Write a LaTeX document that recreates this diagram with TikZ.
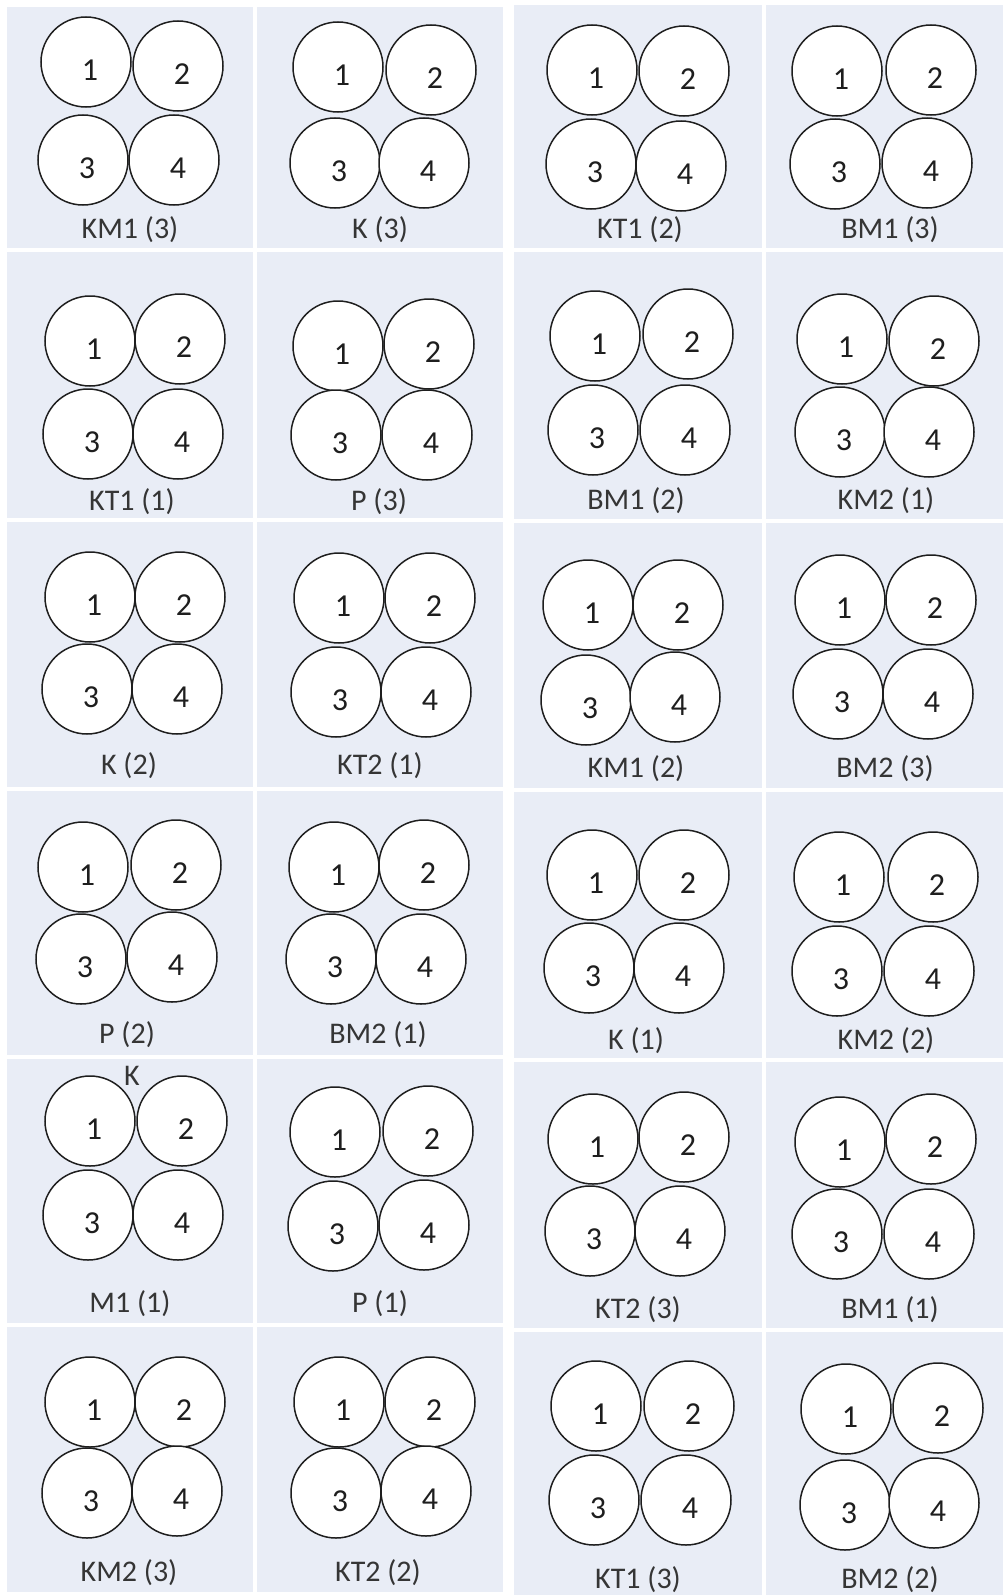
\documentclass[tikz,border=0pt]{standalone}
\usepackage{fontspec}
\setmainfont{Carlito}
\definecolor{cellfill}{RGB}{233,237,246}
\definecolor{ink}{RGB}{30,30,30}
\newcommand\digitfont{\fontsize{32}{38}\selectfont}
\newcommand\capfont{\fontsize{30}{36}\selectfont}
\tikzset{
  x=1pt, y=-1pt,
  cellpanel/.style={fill=cellfill, draw=none},
  ball/.style={circle, draw=ink, line width=1.5pt, fill=white, minimum size=90pt, inner sep=0pt},
  num/.style={label={[font=\digitfont, text=ink, xshift=4pt, yshift=-8pt]center:#1}},
  captext/.style={font=\capfont, text=ink!90, anchor=base, inner sep=0pt},
}
% #1 name, #2-#5 circle centres, #6 label base point, #7 label
\newcommand\quadpanel[7]{%
  \node[ball, num=1] (#1-a) at (#2) {};
  \node[ball, num=2] (#1-b) at (#3) {};
  \node[ball, num=3] (#1-c) at (#4) {};
  \node[ball, num=4] (#1-d) at (#5) {};
  \node[captext] (#1-t) at (#6) {#7};
}
\begin{document}
\begin{tikzpicture}
\path[fill=white] (0,0) rectangle (1003,1595);
\useasboundingbox (0,0) rectangle (1003,1595);
% left table cells
\foreach \ya/\yb in {7/248, 252/518, 522/787, 791/1055, 1059/1323, 1327/1592}{
  \path[cellpanel] (7,\ya) rectangle (253,\yb);
  \path[cellpanel] (257,\ya) rectangle (503,\yb);
}
% right table cells
\foreach \ya/\yb in {5/248, 252/519, 523/788, 792/1058, 1062/1328, 1332/1595}{
  \path[cellpanel] (514,\ya) rectangle (762,\yb);
  \path[cellpanel] (766,\ya) rectangle (1003,\yb);
}
% row 1
\quadpanel{p11}{86,62}{178,66}{83,160}{174,160}{130,238}{KM1 (3)}
\quadpanel{p12}{338,67}{431,70}{335,163}{424,163}{380,238}{K (3)}
\quadpanel{p13}{592,70}{684,71}{591,164}{681,166}{640,238}{KT1 (2)}
\quadpanel{p14}{837,71}{931,70}{835,164}{927,163}{890,238}{BM1 (3)}
% row 2
\quadpanel{p21}{90,341}{180,339}{88,434}{178,434}{132,510}{KT1 (1)}
\quadpanel{p22}{338,346}{429,344}{336,435}{427,435}{379,510}{P (3)}
\quadpanel{p23}{595,336}{688,334}{593,430}{685,430}{636,509}{BM1 (2)}
\quadpanel{p24}{842,339}{934,341}{840,432}{929,432}{886,509}{KM2 (1)}
% row 3
\quadpanel{p31}{90,597}{180,597}{87,689}{177,689}{129,774}{K (2)}
\quadpanel{p32}{339,598}{430,598}{336,692}{426,692}{380,774}{KT2 (1)}
\quadpanel{p33}{588,605}{678,605}{586,700}{675,697}{636,777}{KM1 (2)}
\quadpanel{p34}{840,600}{931,600}{838,694}{928,694}{885,777}{BM2 (3)}
% row 4
\quadpanel{p41}{83,867}{176,865}{81,959}{172,957}{127,1043}{P (2)}
\quadpanel{p42}{334,867}{424,865}{331,959}{421,959}{378,1043}{BM2 (1)}
\quadpanel{p43}{592,875}{684,875}{589,968}{679,968}{636,1049}{K (1)}
\quadpanel{p44}{839,877}{933,877}{837,971}{929,971}{886,1049}{KM2 (2)}
% row 5
\quadpanel{p51}{90,1121}{182,1121}{88,1215}{178,1215}{130,1312}{M1 (1)}
\node[captext, anchor=center] (p51-k) at (132,1076) {K};
\quadpanel{p52}{335,1132}{428,1131}{333,1226}{424,1225}{380,1312}{P (1)}
\quadpanel{p53}{593,1139}{684,1137}{590,1231}{680,1231}{638,1318}{KT2 (3)}
\quadpanel{p54}{840,1142}{931,1139}{837,1234}{929,1234}{890,1318}{BM1 (1)}
% row 6
\quadpanel{p61}{90,1402}{180,1402}{87,1493}{177,1491}{129,1581}{KM2 (3)}
\quadpanel{p62}{339,1402}{430,1402}{336,1493}{426,1491}{378,1581}{KT2 (2)}
\quadpanel{p63}{596,1406}{689,1406}{594,1500}{686,1500}{638,1588}{KT1 (3)}
\quadpanel{p64}{846,1409}{938,1408}{845,1505}{934,1503}{890,1588}{BM2 (2)}
\end{tikzpicture}
\end{document}
